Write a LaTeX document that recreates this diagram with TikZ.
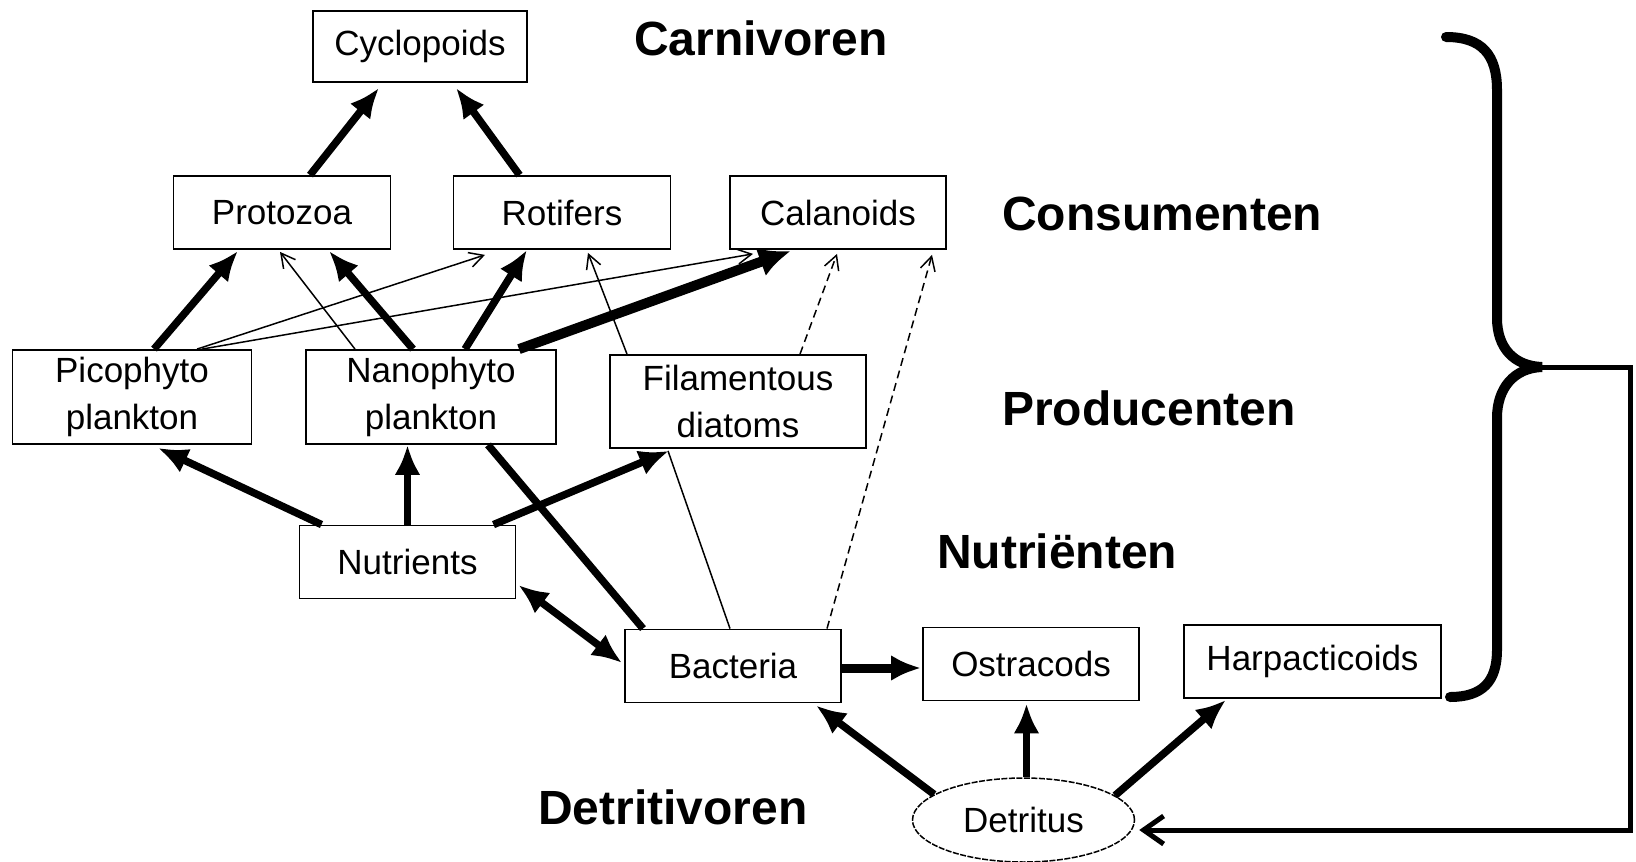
\documentclass[tikz,border=0pt]{standalone}
\usepackage{fontspec}
\setmainfont{Liberation Sans}
\usetikzlibrary{arrows.meta,calc,shapes.geometric}

\begin{document}
\begin{tikzpicture}[x=1pt,y=-1pt,
  box/.style={draw, line width=1.8pt, inner sep=0pt, align=center,
    font=\fontsize{35}{47}\selectfont},
  level/.style={anchor=base west, inner sep=0pt,
    font=\fontsize{48}{56}\selectfont\bfseries},
  heavy/.style={line width=7.5pt, -{Latex[length=30pt,width=26pt]}},
  heavier/.style={line width=10pt, -{Latex[length=32pt,width=30pt]}},
  heavyline/.style={line width=7.5pt},
  thin/.style={line width=1.5pt, -{Straight Barb[length=14pt,width=15pt]}},
  thinline/.style={line width=1.5pt},
  dashedthin/.style={thin, dash pattern=on 8pt off 5pt},
  brace/.style={line width=10pt, line cap=round},
  feedback/.style={line width=5pt, -{Straight Barb[length=20pt,width=28pt]}}
]
\useasboundingbox (0,0) rectangle (1636,862);

% trophic level boxes
\node[box, minimum width=214pt, minimum height=71pt] (cyc) at (420,46.5) {Cyclopoids};
\node[box, minimum width=217pt, minimum height=73pt] (pro) at (282,212.5) {Protozoa};
\node[box, minimum width=217pt, minimum height=73pt] (rot) at (562,212.5) {Rotifers};
\node[box, minimum width=216pt, minimum height=73pt] (cal) at (838,212.5) {Calanoids};
\node[box, minimum width=239pt, minimum height=94pt] (pico) at (132,397) {Picophyto\\plankton};
\node[box, minimum width=250pt, minimum height=94pt] (nano) at (431,397) {Nanophyto\\plankton};
\node[box, minimum width=256pt, minimum height=93pt] (fil) at (738,401.5) {Filamentous\\diatoms};
\node[box, minimum width=216pt, minimum height=73pt] (nut) at (407.5,562) {Nutrients};
\node[box, minimum width=216pt, minimum height=73pt] (bac) at (733,666) {Bacteria};
\node[box, minimum width=216pt, minimum height=73pt] (ost) at (1031,664) {Ostracods};
\node[box, minimum width=257pt, minimum height=73pt] (har) at (1312.5,661.5) {Harpacticoids};
\node[ellipse, draw, line width=1.5pt, dash pattern=on 6pt off 1.5pt, inner sep=0pt,
  minimum width=222pt, minimum height=84pt,
  font=\fontsize{35}{47}\selectfont] (det) at (1023.5,820) {Detritus};

% level labels
\node[level] (lcarn) at (634,55) {Carnivoren};
\node[level] (lcons) at (1002,230) {Consumenten};
\node[level] (lprod) at (1002,425) {Producenten};
\node[level] (lnutr) at (937,568) {Nutriënten};
\node[level] (ldetr) at (538,824) {Detritivoren};

% strong feeding links
\draw[heavy] ($(pro.north)+(28,0)$) -- ($(cyc.south)+(-41,5)$);
\draw[heavy] ($(rot.north)+(-42.5,0)$) -- ($(cyc.south)+(36,5)$);
\draw[heavy] ($(pico.north)+(22,0)$) -- ($(pro.south)+(-44,1)$);
\draw[heavy] ($(nano.north)+(-18,0)$) -- ($(pro.south)+(47,1)$);
\draw[heavy] ($(nano.north)+(34,0)$) -- ($(rot.south)+(-35,0)$);
\draw[heavier] ($(nano.north)+(88,0)$) -- ($(cal.south)+(-47,1)$);
\draw[heavy] ($(nut.north)+(-86,0)$) -- ($(pico.south)+(26,3)$);
\draw[heavy] (nut.north) -- (nut.north |- nano.south);
\draw[heavy] ($(nut.north)+(86,0)$) -- ($(fil.south)+(-69,2)$);
\draw[heavyline] ($(nano.south)+(57,0)$) -- ($(bac.north)+(-90,0)$);
\draw[heavy, {Latex[length=30pt,width=26pt]}-{Latex[length=30pt,width=26pt]}]
  ($(nut.east)+(2,23)$) -- ($(bac.west)+(-2,-3)$);
\draw[heavy, line width=9pt] ($(bac.east)+(0,2)$) -- ($(ost.west)+(-1,4)$);
\draw[heavy] (det.164) -- ($(bac.south east)+(-26,2)$);
\draw[heavy] ($(det.north)+(3,0)$) -- ($(ost.south)+(-4.5,2)$);
\draw[heavy] (det.15) -- ($(har.south)+(-86.5,1)$);

% weak feeding links
\draw[thin] ($(nano.north)+(-76,0)$) -- ($(pro.south)+(-2,2)$);
\draw[thin] ($(pico.north)+(65,0)$) -- ($(rot.south)+(-77,5)$);
\draw[thin] ($(pico.north)+(70,0)$) -- ($(cal.south)+(-85,4)$);
\draw[thin] ($(fil.north)+(-111,0)$) -- ($(rot.south)+(26,3)$);
\draw[thinline] ($(bac.north)+(-3,0)$) -- ($(fil.south)+(-70,2)$);
\draw[dashedthin] ($(fil.north)+(62,0)$) -- ($(cal.south)+(-1,4)$);
\draw[dashedthin] ($(bac.north)+(94,0)$) -- ($(cal.south)+(94,5)$);

% brace grouping all organisms, with the return path to detritus
\coordinate (btip) at (1542,367);
\coordinate (fbcorner) at (1630,830);
\draw[brace] (1446,37) .. controls (1482,37) and (1497,55) .. (1497,90)
  -- (1497,318) .. controls (1497,348) and (1514,366) .. (btip)
  .. controls (1514,368) and (1497,388) .. (1497,418)
  -- (1497,650) .. controls (1497,682) and (1482,697) .. (1450,697);
\draw[feedback] (btip) -- (btip -| fbcorner) -- (fbcorner) -- ($(det.east)+(4,10)$);
\end{tikzpicture}
\end{document}
